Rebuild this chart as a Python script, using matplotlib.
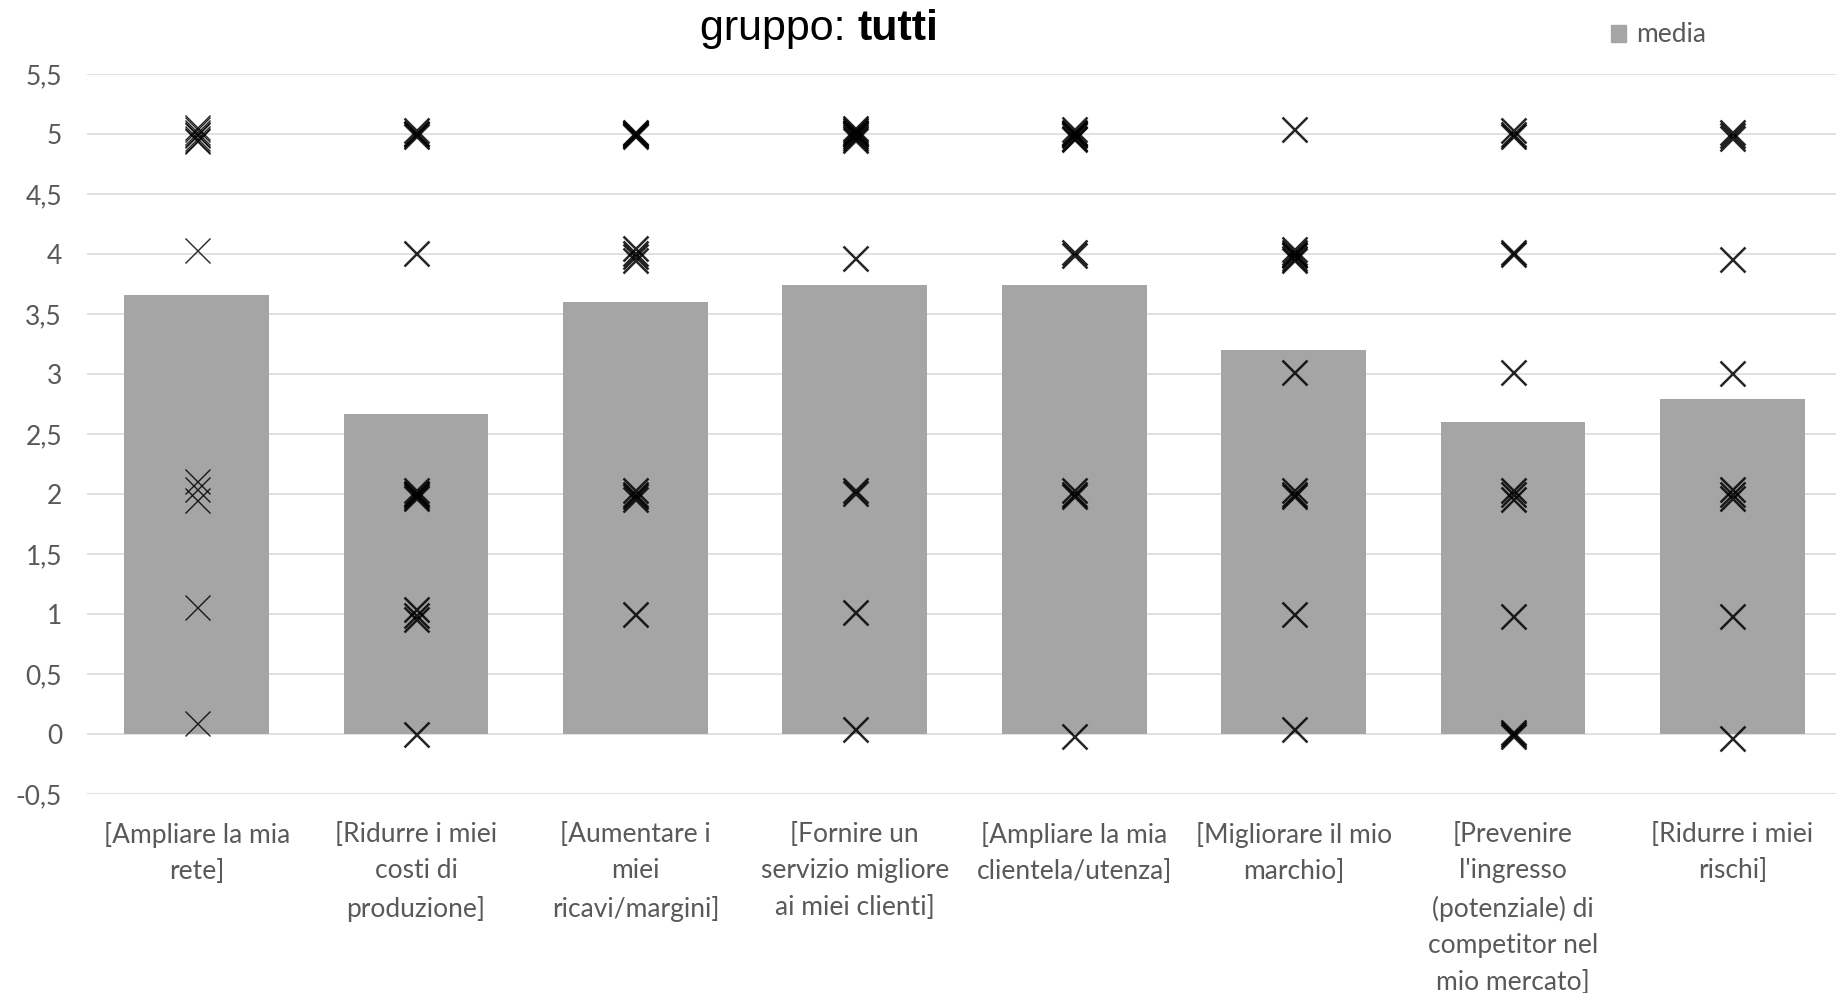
import numpy as np
import matplotlib.pyplot as plt
from matplotlib.patches import Patch

categorie = ["[Ampliare la mia\nrete]",
             "[Ridurre i miei\ncosti di\nproduzione]",
             "[Aumentare i\nmiei\nricavi/margini]",
             "[Fornire un\nservizio migliore\nai miei clienti]",
             "[Ampliare la mia\nclientela/utenza]",
             "[Migliorare il mio\nmarchio]",
             "[Prevenire\nl'ingresso\n(potenziale) di\ncompetitor nel\nmio mercato]",
             "[Ridurre i miei\nrischi]"]

media = [3.66, 2.67, 3.60, 3.74, 3.74, 3.20, 2.60, 2.79]

# singole risposte (con un piccolo scostamento verticale per distinguerle)
r1 = [5.06, 5.04, 5.02, 5.00, 4.99, 4.97, 4.95, 4.94, 4.03, 2.11, 2.04, 1.95, 1.06, 0.09]
r2 = [5.03, 5.01, 5.00, 4.98, 4.01, 2.03, 2.01, 2.00, 1.98, 1.97, 1.04, 0.99, 0.96, 0.00]
r3 = [5.02, 5.01, 5.00, 4.99, 4.98, 4.05, 4.01, 3.98, 3.95, 2.03, 2.00, 1.98, 1.96, 1.00]
r4 = [5.05, 5.03, 5.02, 5.01, 5.00, 4.98, 4.97, 4.95, 3.97, 2.03, 2.01, 1.02, 0.04]
r5 = [5.04, 5.02, 5.01, 5.00, 4.99, 4.97, 4.96, 4.02, 3.99, 2.03, 2.00, 1.98, -0.02]
r6 = [5.04, 4.04, 4.02, 4.00, 3.99, 3.97, 3.95, 3.02, 2.03, 2.00, 1.98, 1.00, 0.04]
r7 = [5.03, 5.00, 4.98, 4.02, 4.00, 3.02, 2.03, 2.00, 1.96, 0.98, 0.02, 0.00, -0.02]
r8 = [5.02, 4.99, 4.97, 3.96, 3.01, 2.04, 2.00, 1.97, 0.98, -0.03]
risposte = [r1, r2, r3, r4, r5, r6, r7, r8]

yticks = np.arange(-0.5, 5.51, 0.5)

plt.rcParams['font.family'] = ['Lato', 'DejaVu Sans']

fig = plt.figure(figsize=(18.36, 9.93), dpi=100)
ax = fig.add_axes([87/1836, 199/993, 1755/1836, 720/993])

x = np.arange(len(categorie))
ax.bar(x, media, width=0.66, color='#a5a5a5', zorder=2)

for i, r in enumerate(risposte):
    lw = 1.0 if i == 0 else 1.8
    ax.plot([x[i]] * len(r), r, linestyle='none', marker='x', markersize=18,
            markeredgewidth=lw, color='black', alpha=0.85, zorder=3)

ax.set_xlim(-0.5, len(categorie) - 0.5)
ax.set_ylim(-0.5, 5.5)
ax.set_yticks(yticks)
ax.set_yticklabels([('%g' % v).replace('.', ',') for v in yticks])
ax.set_xticks(x)
ax.set_xticklabels(categorie, linespacing=1.58)
ax.yaxis.grid(True, color='#d9d9d9', linewidth=1.1, zorder=0)
ax.set_axisbelow(True)
for s in ax.spines.values():
    s.set_visible(False)
ax.tick_params(axis='both', length=0, labelsize=19, labelcolor='#595959')
ax.tick_params(axis='y', pad=18)
ax.tick_params(axis='x', pad=20)

fig.text(858/1836, 1 - 29/993, "gruppo: ", ha='right', va='center',
         fontsize=31, family='Liberation Sans')
fig.text(858/1836, 1 - 29/993, "tutti", ha='left', va='center',
         fontsize=31, family='Liberation Sans', fontweight='bold')

leg = fig.legend(handles=[Patch(color='#a5a5a5', label='media')],
                 loc='center left', bbox_to_anchor=(1600/1836, 1 - 35/993),
                 frameon=False, fontsize=19, handlelength=0.6, handleheight=0.6,
                 handletextpad=0.35, borderaxespad=0)
for t in leg.get_texts():
    t.set_color('#595959')

plt.savefig("out.png", dpi=100)
